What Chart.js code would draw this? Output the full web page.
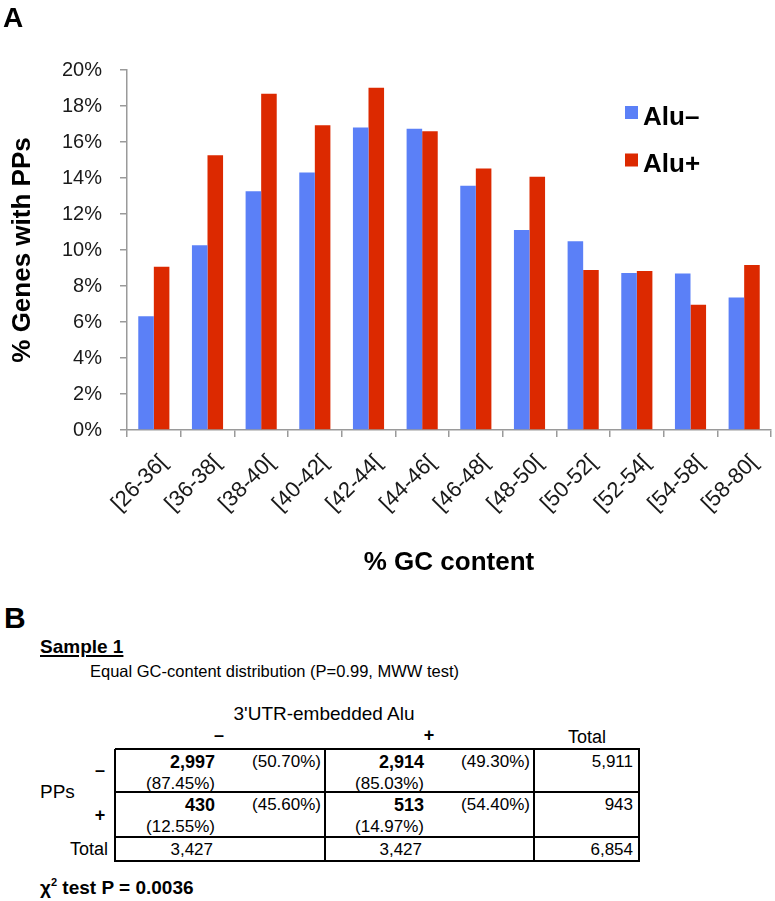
<!DOCTYPE html>
<html>
<head>
<meta charset="utf-8">
<script src="https://cdn.jsdelivr.net/npm/chart.js@4.4.1/dist/chart.umd.min.js"></script>
<style>
    body { margin: 0; background: #fff; font-family: "Liberation Sans", Arial, sans-serif; color: #000; }
    #wrap { position: relative; width: 775px; height: 901px; overflow: hidden; }
    #chartCanvas { position: absolute; left: 0; top: 0; }
    .t { position: absolute; line-height: 1; white-space: nowrap; }
    .b { font-weight: bold; }
    .hl { position: absolute; height: 2px; background: #000; }
    .vl { position: absolute; width: 2px; background: #000; }
</style>
</head>
<body>
<div id="wrap">
    <canvas id="chartCanvas" width="775" height="600"></canvas>
</div>
<script>
    // panel A data
    const categories = ["[26-36[", "[36-38[", "[38-40[", "[40-42[", "[42-44[", "[44-46[",
        "[46-48[", "[48-50[", "[50-52[", "[52-54[", "[54-58[", "[58-80["];
    const aluMinus = [6.32, 10.27, 13.26, 14.31, 16.80, 16.73, 13.57, 11.11, 10.49, 8.72, 8.69, 7.36];
    const aluPlus = [9.07, 15.26, 18.68, 16.93, 19.01, 16.60, 14.53, 14.07, 8.89, 8.83, 6.96, 9.16];
    const seriesNames = ["Alu\u2013", "Alu+"];
    const yMax = 20;
    const yStep = 2;

    // panel B data (rows: PPs -, PPs +; columns: Alu -, Alu +)
    const colHeaders = ["\u2013", "+"];
    const rowHeaders = ["\u2013", "+"];
    const counts = [["2,997", "2,914"], ["430", "513"]];
    const rowPct = [["(50.70%)", "(49.30%)"], ["(45.60%)", "(54.40%)"]];
    const colPct = [["(87.45%)", "(85.03%)"], ["(12.55%)", "(14.97%)"]];
    const rowTotals = ["5,911", "943"];
    const colTotals = ["3,427", "3,427"];
    const grandTotal = "6,854";

    const FONT = '"Liberation Sans", Arial, sans-serif';
    Chart.defaults.font.family = FONT;

    // legend drawn inside the plot, right side
    const sideLegend = {
        id: "sideLegend",
        afterDraw(chart) {
            const ctx = chart.ctx;
            ctx.save();
            chart.data.datasets.forEach((ds, i) => {
                const y = 112.5 + i * 47.5;
                ctx.fillStyle = ds.backgroundColor;
                ctx.fillRect(625, y - 6.5, 13, 13);
                ctx.fillStyle = "#000";
                ctx.font = "bold 26px " + FONT;
                ctx.textBaseline = "alphabetic";
                ctx.fillText(ds.label, 643, y + 12);
            });
            ctx.restore();
        },
    };

    new Chart(document.getElementById("chartCanvas").getContext("2d"), {
        type: "bar",
        data: {
            labels: categories,
            datasets: [
                { label: seriesNames[0], data: aluMinus, backgroundColor: "#5b80f7" },
                { label: seriesNames[1], data: aluPlus, backgroundColor: "#dc2900" },
            ],
        },
        options: {
            responsive: false,
            animation: false,
            categoryPercentage: 0.58,
            barPercentage: 1.0,
            layout: { padding: { top: 70, right: 4, left: 0, bottom: 0 } },
            plugins: { legend: { display: false }, tooltip: { enabled: false } },
            scales: {
                x: {
                    grid: { offset: true, drawOnChartArea: false, drawTicks: true, tickLength: 7, color: "#9a9a9a", lineWidth: 1.5 },
                    border: { color: "#9a9a9a", width: 1.5 },
                    ticks: { minRotation: 45, maxRotation: 45, autoSkip: false, color: "#1a1a1a", font: { size: 22 }, padding: 13, labelOffset: 10 },
                    title: { display: true, text: "% GC content", color: "#000", font: { size: 26, weight: "bold" }, padding: { top: 0, bottom: 22 } },
                    afterFit(scale) {
                        scale.height = 170;
                        scale.paddingLeft = 0;
                        scale.paddingRight = 0;
                    },
                },
                y: {
                    min: 0,
                    max: yMax,
                    grid: { drawOnChartArea: false, drawTicks: true, tickLength: 7, color: "#9a9a9a", lineWidth: 1.5 },
                    border: { color: "#9a9a9a", width: 1.5 },
                    ticks: { stepSize: yStep, color: "#1a1a1a", font: { size: 20 }, padding: 18, callback: (v) => v + "%" },
                    title: { display: true, text: "% Genes with PPs", color: "#000", font: { size: 26, weight: "bold" }, padding: { top: 7, bottom: 0 } },
                    afterFit(scale) {
                        scale.width = 127;
                    },
                },
            },
        },
        plugins: [sideLegend],
    });

    // panel B as html text
    const wrap = document.getElementById("wrap");

    function addText(text, opts) {
        const el = document.createElement("div");
        el.className = "t" + (opts.bold ? " b" : "");
        el.style.fontSize = opts.size + "px";
        el.style.top = (opts.baseline - 0.8465 * opts.size) + "px";
        if (opts.html) el.innerHTML = text; else el.textContent = text;
        if (opts.right !== undefined) {
            el.style.right = (775 - opts.right) + "px";
        } else if (opts.center !== undefined) {
            el.style.left = (opts.center - 200) + "px";
            el.style.width = "400px";
            el.style.textAlign = "center";
        } else {
            el.style.left = opts.left + "px";
        }
        if (opts.css) Object.assign(el.style, opts.css);
        wrap.appendChild(el);
        return el;
    }

    function addLine(cls, x, y, len) {
        const el = document.createElement("div");
        el.className = cls;
        el.style.left = x + "px";
        el.style.top = y + "px";
        if (cls === "hl") el.style.width = len + "px"; else el.style.height = len + "px";
        wrap.appendChild(el);
    }

    addText("A", { left: 3, baseline: 28, size: 28, bold: true });
    addText("B", { left: 4, baseline: 628, size: 30, bold: true });
    addText("Sample 1", { left: 40, baseline: 653, size: 19, bold: true,
        css: { textDecoration: "underline", textDecorationThickness: "2px", textUnderlineOffset: "2px" } });
    addText("Equal GC-content distribution (P=0.99, MWW test)", { left: 90, baseline: 677, size: 16.5 });
    addText("3'UTR-embedded Alu", { center: 324, baseline: 720, size: 19 });

    // table grid
    const tableX = [115, 325, 534, 639];
    const tableY = [749, 792, 837, 861];
    tableY.forEach((y) => addLine("hl", tableX[0], y - 1, tableX[3] - tableX[0] + 1));
    tableX.forEach((x) => addLine("vl", x - 1, tableY[0], tableY[3] - tableY[0] + 1));

    const countRight = [215, 424];
    const pctRight = [321, 530];
    const colHeadCenter = [219, 429];

    colHeaders.forEach((h, j) => addText(h, { center: colHeadCenter[j], baseline: 741, size: 18, bold: true }));
    addText("Total", { center: 587, baseline: 743, size: 18 });
    addText("PPs", { left: 40, baseline: 798, size: 19 });

    rowHeaders.forEach((h, i) => {
        const top = tableY[i];
        addText(h, { center: 100, baseline: top + (i === 0 ? 27 : 29), size: 18, bold: true });
        counts[i].forEach((c, j) => {
            addText(c, { right: countRight[j], baseline: top + 19, size: 18, bold: true });
            addText(rowPct[i][j], { right: pctRight[j], baseline: top + 18, size: 17 });
            addText(colPct[i][j], { right: countRight[j], baseline: top + 40, size: 17 });
        });
        addText(rowTotals[i], { right: 633, baseline: top + 18, size: 17 });
    });

    addText("Total", { right: 108, baseline: 855, size: 18 });
    colTotals.forEach((c, j) => addText(c, { right: countRight[j] - 2, baseline: 855, size: 17 }));
    addText(grandTotal, { right: 633, baseline: 855, size: 17 });

    addText("\u03c7<sup style=\"font-size:11px;vertical-align:8px\">2</sup> test P = 0.0036",
        { left: 40, baseline: 893, size: 19, bold: true, html: true });
</script>
</body>
</html>
